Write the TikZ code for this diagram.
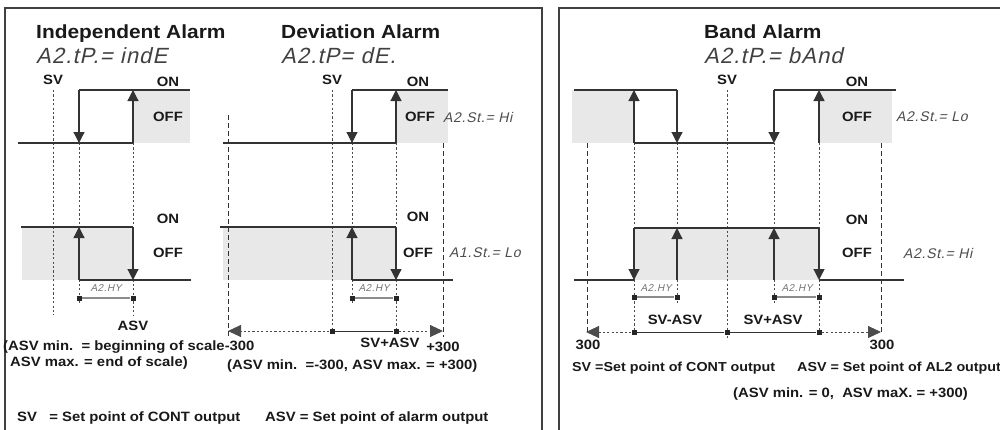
\documentclass[tikz,border=0pt]{standalone}
\usepackage{fontspec}
\setmainfont[FakeStretch=1.1]{Liberation Sans}
\newfontfamily\segfont[FakeSlant=0.22,LetterSpace=5]{Liberation Sans}
\usetikzlibrary{arrows.meta}
\begin{document}
\begin{tikzpicture}[x=1pt,y=-1pt,
 lvl/.style={line width=1.2pt, draw=black!80},
 arr/.style={lvl, -{Triangle[length=11pt,width=11pt]}},
 dimarr/.style={-{Triangle[length=13pt,width=12pt]}},
 dotl/.style={line width=0.9pt, draw=black!70, dash pattern=on 2.2pt off 2.2pt},
 dashl/.style={line width=0.9pt, draw=black!80, dash pattern=on 5pt off 3pt},
 offbg/.style={fill=black!9, draw=none},
 lbl/.style={font=\bfseries\fontsize{13.5}{15}\selectfont, inner sep=0pt, text=black!90},
 lbls/.style={lbl, font=\bfseries\fontsize{13}{15}\selectfont},
 ttl/.style={font=\bfseries\fontsize{19}{21}\selectfont, inner sep=0pt, anchor=base west, text=black!90},
 seg/.style={font=\segfont\fontsize{22}{24}\selectfont, inner sep=0pt, anchor=base west, text=black!75},
 segs/.style={font=\segfont\fontsize{14}{16}\selectfont, inner sep=0pt, anchor=west, text=black!70},
 hy/.style={font=\segfont\fontsize{10}{11}\selectfont, inner sep=0pt, text=black!55},
 hybar/.style={line width=1.1pt, draw=black!45},
 sq/.style={rectangle, fill=black!85, inner sep=0pt, minimum size=5pt},
 frame/.style={line width=1.5pt, draw=black!75}]
\useasboundingbox (0,0) rectangle (1000,429);

% frames
\draw[frame] (5,440) -- (5,8) -- (542,8) -- (542,440);
\draw[frame] (559,440) -- (559,8) -- (1002,8);

% ================= Independent alarm =================
\node[ttl] (t1) at (36,38) {Independent Alarm};
\node[seg] (s1) at (36,63) {A2.tP.= indE};
\node[lbl] (sv1) at (53,80) {SV};
\fill[offbg] (133,90) rectangle (190,143);
\fill[offbg] (22,227) rectangle (133,280);
\draw[dotl] (53,90) -- (53,315);
\draw[dotl] (79,143) -- (79,303);
\draw[dotl] (133,143) -- (133,315);
\draw[lvl] (79,90) -- (190,90);
\draw[lvl] (18,143) -- (133,143);
\draw[arr] (79,90) -- (79,143);
\draw[arr] (133,143) -- (133,90);
\node[lbl] (on1) at (168,82) {ON};
\node[lbl] (off1) at (168,117) {OFF};
\draw[lvl] (21,227) -- (133,227);
\draw[lvl] (79,280) -- (191,280);
\draw[arr] (79,280) -- (79,227);
\draw[arr] (133,227) -- (133,280);
\node[lbl] (on1b) at (168,219) {ON};
\node[lbl] (off1b) at (168,253) {OFF};
\node[hy] (hy1) at (106,288) {A2.HY};
\node[sq] (h1a) at (79,298) {};
\node[sq] (h1b) at (133,298) {};
\draw[hybar] (h1a) -- (h1b);
\node[lbl] (asv1) at (133,326) {ASV};
\node[lbl, anchor=west] (n1) at (3,347) {(ASV min.\ \ = beginning of scale-300};
\node[lbl, anchor=west] (n2) at (10,363) {ASV max. = end of scale)};
\node[lbl, anchor=west] (n3) at (17,418) {SV\ \ \ = Set point of CONT output};

% ================= Deviation alarm =================
\node[ttl] (t2) at (281,38) {Deviation Alarm};
\node[seg] (s2) at (281,63) {A2.tP= dE.};
\node[lbl] (sv2) at (332,80) {SV};
\fill[offbg] (396,90) rectangle (448,143);
\fill[offbg] (223,227) rectangle (396,280);
\draw[dotl] (332,90) -- (332,333);
\draw[dashl] (228,115) -- (228,337);
\draw[dashl] (443,143) -- (443,337);
\draw[dotl] (352,143) -- (352,303);
\draw[dotl] (396,143) -- (396,333);
\draw[lvl] (352,90) -- (448,90);
\draw[lvl] (223,143) -- (396,143);
\draw[arr] (352,90) -- (352,143);
\draw[arr] (396,143) -- (396,90);
\node[lbl] (on2) at (418,82) {ON};
\node[lbl] (off2) at (420,117) {OFF};
\node[segs] (st2) at (443,117) {A2.St.= Hi};
\draw[lvl] (220,227) -- (396,227);
\draw[lvl] (352,280) -- (453,280);
\draw[arr] (352,280) -- (352,227);
\draw[arr] (396,227) -- (396,280);
\node[lbl] (on2b) at (418,217) {ON};
\node[lbl] (off2b) at (418,253) {OFF};
\node[segs] (st2b) at (449,253) {A1.St.= Lo};
\node[hy] (hy2) at (374,288) {A2.HY};
\node[sq] (h2a) at (352,298) {};
\node[sq] (h2b) at (396,298) {};
\draw[hybar] (h2a) -- (h2b);
\node[sq] (d2a) at (332,331) {};
\node[sq] (d2b) at (396,331) {};
\coordinate (d2l) at (228,331);
\coordinate (d2r) at (443,331);
\draw[dotl, dimarr] (d2a) -- (d2l);
\draw[lvl, line width=1pt] (d2a) -- (d2b);
\draw[dotl, dimarr] (d2b) -- (d2r);
\node[lbl] (svp2) at (390,343) {SV+ASV};
\node[lbl] (p300) at (443,347) {+300};
\node[lbl, anchor=west] (n4) at (227,366) {(ASV min.\ \ =-300, ASV max. = +300)};
\node[lbl, anchor=west] (n5) at (265,418) {ASV = Set point of alarm output};

% ================= Band alarm =================
\node[ttl] (t3) at (704,38) {Band Alarm};
\node[seg] (s3) at (704,63) {A2.tP.= bAnd};
\node[lbl] (sv3) at (727,80) {SV};
\fill[offbg] (572,90) rectangle (634,143);
\fill[offbg] (819,90) rectangle (892,143);
\fill[offbg] (634,228) rectangle (819,280);
\draw[dotl] (727,90) -- (727,338);
\draw[dashl] (587,143) -- (587,333);
\draw[dashl] (881,143) -- (881,333);
\draw[dotl] (634,143) -- (634,333);
\draw[dotl] (677,143) -- (677,303);
\draw[dotl] (774,143) -- (774,303);
\draw[dotl] (819,143) -- (819,333);
\draw[lvl] (574,90) -- (677,90);
\draw[lvl] (774,90) -- (896,90);
\draw[lvl] (634,143) -- (774,143);
\draw[arr] (634,143) -- (634,90);
\draw[arr] (677,90) -- (677,143);
\draw[arr] (774,90) -- (774,143);
\draw[arr] (819,143) -- (819,90);
\node[lbl] (on3) at (857,82) {ON};
\node[lbl] (off3) at (857,117) {OFF};
\node[segs] (st3) at (896,117) {A2.St.= Lo};
\draw[lvl] (634,228) -- (819,228);
\draw[lvl] (574,280) -- (634,280);
\draw[lvl] (819,280) -- (904,280);
\draw[arr] (634,228) -- (634,280);
\draw[arr] (677,280) -- (677,228);
\draw[arr] (774,280) -- (774,228);
\draw[arr] (819,228) -- (819,280);
\node[lbl] (on3b) at (857,220) {ON};
\node[lbl] (off3b) at (857,253) {OFF};
\node[segs] (st3b) at (903,253) {A2.St.= Hi};
\node[hy] (hy3a) at (656,288) {A2.HY};
\node[hy] (hy3b) at (797,288) {A2.HY};
\node[sq] (h3a) at (634,297) {};
\node[sq] (h3b) at (677,297) {};
\node[sq] (h3c) at (774,297) {};
\node[sq] (h3d) at (819,297) {};
\draw[hybar] (h3a) -- (h3b);
\draw[hybar] (h3c) -- (h3d);
\node[sq] (d3a) at (634,332) {};
\node[sq] (d3b) at (727,332) {};
\node[sq] (d3c) at (819,332) {};
\coordinate (d3l) at (586,332);
\coordinate (d3r) at (881,332);
\draw[dotl, dimarr] (d3a) -- (d3l);
\draw[lvl, line width=1pt] (d3a) -- (d3b) -- (d3c);
\draw[dotl, dimarr] (d3c) -- (d3r);
\node[lbl] (svm3) at (675,320) {SV-ASV};
\node[lbl] (svp3) at (773,320) {SV+ASV};
\node[lbl] (m300) at (588,345) {300};
\node[lbl] (p300b) at (882,345) {300};
\node[lbls, anchor=west] (n6) at (572,368) {SV =Set point of CONT output};
\node[lbls, anchor=west] (n7) at (797,368) {ASV = Set point of AL2 output};
\node[lbl, anchor=west] (n8) at (733,394) {(ASV min. = 0,\ \ ASV maX. = +300)};
\end{tikzpicture}
\end{document}
